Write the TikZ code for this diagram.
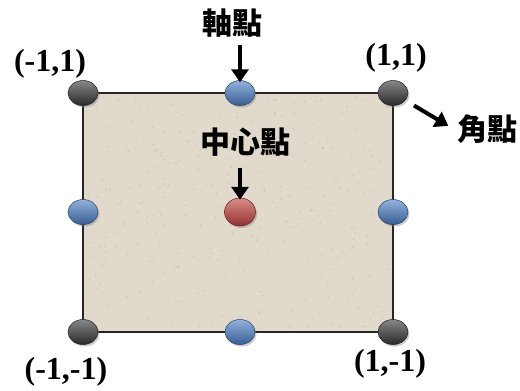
\documentclass[tikz,border=0pt]{standalone}
\usepackage{fontspec}
\setmainfont{Liberation Serif}
\newfontfamily\cjk{Noto Sans CJK TC}
\usetikzlibrary{arrows.meta, shapes.geometric, shadows}
\definecolor{sand}{RGB}{224,217,204}
\definecolor{knobblack}{RGB}{55,55,55}
\definecolor{knobblue}{RGB}{74,126,196}
\definecolor{knobred}{RGB}{196,64,64}

\begin{document}
\begin{tikzpicture}[x=1pt, y=-1pt,
    board/.style={fill=sand, draw=black!85, line width=1.3pt},
    knob/.style={ellipse, minimum width=30pt, minimum height=25pt, inner sep=0pt,
        draw=#1!50!black, line width=0.5pt,
        top color=#1!60!white, bottom color=#1!75!black,
        drop shadow={shadow xshift=1.5pt, shadow yshift=-2pt, opacity=0.4}},
    coordlbl/.style={font=\fontsize{32}{34}\selectfont\bfseries},
    tag/.style={font=\cjk\bfseries\fontsize{30}{32}\selectfont},
    ptr/.style={line width=4pt, -{Triangle[length=13pt, width=17pt]}}]

    \useasboundingbox (0,0) rectangle (520,391);

    % --- board ---
    \draw[board] (83,93) rectangle (393,332);
    \pgfmathsetseed{11}
    \foreach \k in {1,...,320}
        \fill[sand!75!black, opacity=0.25] (86+304*rnd, 96+233*rnd) circle (1.1);

    % --- corner points ---
    \node[knob=knobblack] (nw) at (83,93) {};
    \node[knob=knobblack] (ne) at (393,93) {};
    \node[knob=knobblack] (sw) at (83,332) {};
    \node[knob=knobblack] (se) at (393,332) {};

    % --- axis points ---
    \node[knob=knobblue] (top) at (240,93) {};
    \node[knob=knobblue] (bot) at (240,332) {};
    \node[knob=knobblue] (lft) at (83,212) {};
    \node[knob=knobblue] (rgt) at (393,212) {};

    % --- center point ---
    \node[knob=knobred, minimum width=31pt, minimum height=28pt] (mid) at (240,212) {};

    % --- labels ---
    \node[coordlbl] (l-nw) at (50,64) {(-1,1)};
    \node[coordlbl] (l-ne) at (396,58) {(1,1)};
    \node[coordlbl] (l-sw) at (66,372) {(-1,-1)};
    \node[coordlbl] (l-se) at (390,364) {(1,-1)};

    \node[tag] (axlbl) at (232,23) {軸點};
    \node[tag] (midlbl) at (245,142) {中心點};
    \node[tag] (cornerlbl) at (487,129) {角點};

    % --- arrows ---
    \draw[ptr] (axlbl.south -| top.north) ++(0,4) -- ([yshift=-2pt]top.north);
    \draw[ptr] (midlbl.south -| mid.north) ++(0,8) -- ([yshift=-2pt]mid.north);
    \draw[ptr, shorten <=10pt, shorten >=6pt] (ne) -- (cornerlbl.west);

\end{tikzpicture}
\end{document}
